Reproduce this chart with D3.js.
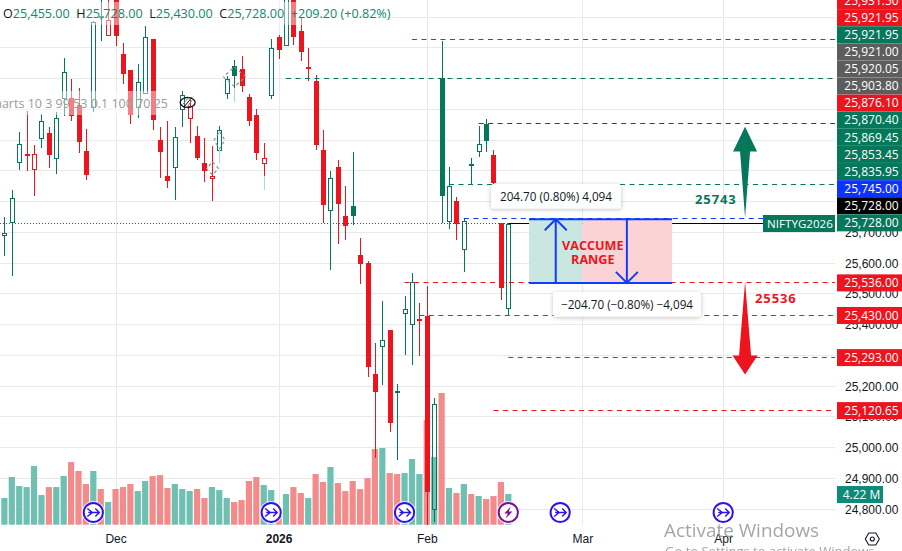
<!DOCTYPE html>
<html>
<head>
<meta charset="utf-8">
<style>
  html, body { margin: 0; padding: 0; background: #fff; overflow: hidden; }
  svg { display: block; font-family: "Open Sans", sans-serif; }
</style>
<script src="https://cdn.jsdelivr.net/npm/d3@7/dist/d3.min.js"></script>
</head>
<body>
<div id="chart"></div>
<script>
const candleOpen = [25692,25733,25928,25956,25906,26006,26023,25941,26136,26137,26114,25966,26108,26403,26341,26479,26281,26229,26108,26153,26330,26002,25885,25913,26101,26072,26015,25926,25877,25968,26153,26242,26232,26140,26083,25926,26147,26336,26310,26479,26356,26238,26194,25969,25773,25913,25755,25787,25628,25601,25241,25331,25384,25184,25438,25402,25420,25429,24801,26202,25737,25803,25646,25924,25964,26054,25953,25731,25455];
const candleHigh = [25750,25839,26027,26094,25985,26085,26044,26092,26267,26200,26170,26036,26387,26490,26470,26522,26316,26229,26248,26370,26330,26044,26064,26044,26160,26132,26047,26008,25982,26047,26210,26262,26275,26150,26101,25991,26329,26343,26544,26522,26397,26300,26213,26034,25901,25937,25852,25963,25683,25608,25340,25478,25384,25207,25493,25569,25472,25527,25162,26324,25913,25815,25747,25942,26047,26070,25969,25731,25728];
const candleLow = [25622,25559,25904,25901,25820,25976,25911,25891,26078,26064,25959,25872,26091,26321,26341,26305,26184,26054,26072,26153,26034,25878,25846,25807,26044,25991,25934,25863,25803,25926,26135,26123,26156,26045,25937,25839,26135,26265,26310,26311,26259,26191,25969,25731,25577,25663,25674,25725,25533,25229,24965,25203,25050,24961,25302,25268,25299,24750,24760,25731,25712,25674,25570,25858,25944,25961,25823,25479,25430];
const candleClose = [25698,25812,25988,25954,25955,26062,25951,26072,26222,26078,25995,25886,26383,26396,26390,26338,26214,26083,26189,26336,26065,25961,25866,26010,26146,26110,25941,25899,25884,26032,26199,26208,26175,26061,25957,25942,26300,26292,26522,26335,26286,26236,25985,25788,25877,25791,25720,25752,25596,25261,25180,25350,25079,25178,25451,25539,25414,24855,25142,25817,25852,25726,25737,25918,25988,25996,25860,25518,25728];
const candleGreen = [1,1,1,0,0,1,0,1,1,0,0,0,1,1,0,0,0,0,1,1,0,0,0,1,1,0,0,0,0,1,1,1,0,0,0,0,1,0,1,0,0,0,0,0,1,0,0,1,0,0,0,1,0,1,1,1,0,0,1,1,1,0,1,1,1,1,0,0,1];
const volumeM = [3.67,6.56,5.32,5.18,8.07,4.08,5.18,5.18,6.70,8.62,7.39,5.60,7.39,4.91,3.12,4.91,5.18,5.60,4.63,6.01,6.70,6.83,5.05,5.60,4.91,4.63,4.91,3.67,5.18,4.77,3.67,3.12,3.39,6.01,6.56,5.46,4.77,1.70,4.22,5.18,4.36,3.67,6.97,5.87,7.94,5.73,4.63,6.01,4.91,6.42,10.41,10.55,7.11,6.97,7.11,9.04,6.97,14.40,9.31,18.12,5.05,4.36,5.60,4.22,3.94,3.53,3.94,5.87,4.22];
const volumeGreen = [1,1,1,1,1,1,0,1,1,0,0,0,1,0,1,0,0,0,1,1,0,0,0,1,1,1,0,0,1,1,1,0,0,0,0,1,1,0,1,0,0,1,0,0,1,0,0,0,0,0,0,1,0,0,1,1,1,0,1,0,1,0,1,0,1,0,0,0,1];

const monthTicks = [15, 37, 57, 78, 97];
const monthLabels = ["Dec", "2026", "Feb", "Mar", "Apr"];
const priceTicks = [24800, 24900, 25000, 25100, 25200, 25300, 25400, 25500, 25600, 25700];

// drawn levels: start candle, price, colour
const levelStart = [55, 38, 64, 60, 62, 54, 56, 68, 66];
const levelPrice = [26326, 26202, 26053, 25855, 25745, 25536, 25430, 25293, 25120.65];
const levelKind = ["g", "g", "b", "g", "b", "r", "r", "r", "r"];

// pile of labels on the axis, top to bottom, ending at the last price
const pileText = ["25,931.50","25,921.95","25,921.95","25,921.00","25,920.05","25,903.80","25,876.10","25,870.40","25,869.45","25,853.45","25,835.95","25,745.00","25,728.00","25,728.00"];
const pileKind = ["r","r","g","x","x","x","r","g","g","g","g","b","k","g"];
const lowerLabelPrice = [25536, 25430, 25293, 25120.65];
const lowerLabelText = ["25,536.00", "25,430.00", "25,293.00", "25,120.65"];

const eventCandles = [12, 36, 54, 75, 97];
const flashCandle = 68;

// candles whose lower wick fades out, and the price where the fade starts
const paleWickCandle = [29, 31, 35];
const paleWickFrom = [25968, 26170, 25882];

// grey dashed drawing marks around some candles: candle, price, half width, half height
const diamondCandle = [29, 28, 31];
const diamondPrice = [26000, 25908, 26206];
const diamondSize = [[5.5, 8.5], [6, 6.5], [11, 10]];

const colors = {
  g: "#05775a", r: "#ee141e", b: "#0f33ff", x: "#5d5d5d", k: "#000",
  volG: "#6fbfb3", volR: "#f48b8b", grid: "#e9e9e9"
};

const width = 902, height = 551;
const plotRight = 835;

const svg = d3.select("#chart").append("svg")
  .attr("width", width)
  .attr("height", height);

const x = d3.scaleLinear().domain([0, 68]).range([4.4, 508.3]);
const y = d3.scaleLinear().domain([24800, 26400]).range([509.2, 17.2]);
const yVol = d3.scaleLinear().domain([0, 18.12]).range([524.7, 393]);
const px = i => Math.round(x(i)) + 0.5;
const py = p => Math.floor(y(p)) + 0.5;

// grid
svg.append("g").selectAll("line")
  .data(d3.range(24800, 26500, 100))
  .join("line")
  .attr("x1", 0).attr("x2", plotRight)
  .attr("y1", d => py(d)).attr("y2", d => py(d))
  .attr("stroke", colors.grid);

svg.append("g").selectAll("line")
  .data(monthTicks)
  .join("line")
  .attr("x1", d => px(d)).attr("x2", d => px(d))
  .attr("y1", 0).attr("y2", 525)
  .attr("stroke", colors.grid);

// volume
svg.append("g").selectAll("rect")
  .data(volumeM)
  .join("rect")
  .attr("x", (d, i) => x(i) - 3.1)
  .attr("width", 6.2)
  .attr("y", d => yVol(d))
  .attr("height", d => yVol(0) - yVol(d))
  .attr("fill", (d, i) => volumeGreen[i] ? colors.volG : colors.volR);

// candles
const candles = svg.append("g").attr("shape-rendering", "crispEdges");
candleOpen.forEach((o, i) => {
  const c = candleClose[i];
  const col = candleGreen[i] ? colors.g : colors.r;
  const hollow = c > o;
  const top = y(Math.max(o, c)), bottom = y(Math.min(o, c));
  candles.append("line").attr("x1", px(i)).attr("x2", px(i))
    .attr("y1", y(candleHigh[i])).attr("y2", top).attr("stroke", col);
  candles.append("line").attr("x1", px(i)).attr("x2", px(i))
    .attr("y1", bottom).attr("y2", y(candleLow[i])).attr("stroke", col);
  if (hollow) {
    candles.append("rect").attr("x", px(i) - 2).attr("width", 4)
      .attr("y", Math.round(top) + 0.5).attr("height", Math.max(1, Math.round(bottom - top)))
      .attr("fill", "none").attr("stroke", col);
  } else {
    candles.append("rect").attr("x", px(i) - 2.5).attr("width", 5)
      .attr("y", top).attr("height", Math.max(2, bottom - top))
      .attr("fill", col);
  }
});

paleWickCandle.forEach((c, i) => {
  candles.append("line").attr("x1", px(c)).attr("x2", px(c))
    .attr("y1", y(paleWickFrom[i])).attr("y2", y(candleLow[c]))
    .attr("stroke", "#a9dbd3");
});

// washed-out bands behind the legend rows
svg.append("rect").attr("x", 0).attr("y", 2).attr("width", 392).attr("height", 23)
  .attr("fill", "#fff").attr("opacity", 0.45);
svg.append("rect").attr("x", 0).attr("y", 91).attr("width", 172).attr("height", 24)
  .attr("fill", "#fff").attr("opacity", 0.45);

// levels
svg.append("g").selectAll("line")
  .data(levelPrice)
  .join("line")
  .attr("x1", (d, i) => x(levelStart[i]))
  .attr("x2", plotRight)
  .attr("y1", d => py(d)).attr("y2", d => py(d))
  .attr("stroke", (d, i) => colors[levelKind[i]])
  .attr("stroke-dasharray", "5 4.5");

// last price line
const lastY = py(25728);
svg.append("line").attr("x1", 0).attr("x2", x(68)).attr("y1", lastY).attr("y2", lastY)
  .attr("stroke", colors.g).attr("stroke-dasharray", "1 2");
svg.append("line").attr("x1", x(68)).attr("x2", 763).attr("y1", lastY).attr("y2", lastY)
  .attr("stroke", "#000");

// vaccume range box
const boxL = x(70.8), boxM = x(78), boxR = x(90.1);
const boxTop = y(25743), boxBot = y(25536);
svg.append("rect").attr("x", boxL).attr("y", boxTop).attr("width", boxM - boxL).attr("height", boxBot - boxTop)
  .attr("fill", "#c9e6e0");
svg.append("rect").attr("x", boxM).attr("y", boxTop).attr("width", boxR - boxM).attr("height", boxBot - boxTop)
  .attr("fill", "#fbd3d4");

const blue = svg.append("g").attr("fill", "none").attr("stroke", "#0f3cff").attr("stroke-width", 2);
[boxTop, boxBot].forEach(v => blue.append("line").attr("x1", boxL).attr("x2", boxR).attr("y1", v).attr("y2", v));
const upX = x(74.4), downX = x(84);
blue.append("line").attr("x1", upX).attr("x2", upX).attr("y1", boxTop).attr("y2", boxBot);
blue.append("path").attr("d", `M${upX - 11},${boxTop + 11}L${upX},${boxTop}L${upX + 11},${boxTop + 11}`);
blue.append("line").attr("x1", downX).attr("x2", downX).attr("y1", boxTop).attr("y2", boxBot);
blue.append("path").attr("d", `M${downX - 11},${boxBot - 11}L${downX},${boxBot}L${downX + 11},${boxBot - 11}`);

svg.append("g").selectAll("text")
  .data(["VACCUME", "RANGE"])
  .join("text")
  .attr("x", x(79.4))
  .attr("y", (d, i) => 250 + i * 14)
  .attr("text-anchor", "middle")
  .attr("font-size", 12.6)
  .attr("font-weight", 700)
  .attr("fill", colors.r)
  .text(d => d);

// measure tooltips
const shadow = svg.append("defs").append("filter").attr("id", "sh")
  .attr("x", "-10%").attr("y", "-30%").attr("width", "120%").attr("height", "170%");
shadow.append("feDropShadow").attr("dx", 0).attr("dy", 1).attr("stdDeviation", 2)
  .attr("flood-color", "#000").attr("flood-opacity", 0.25);

function tip(bx, by, bw, bh, txt) {
  svg.append("rect").attr("x", bx).attr("y", by).attr("width", bw).attr("height", bh)
    .attr("rx", 3).attr("fill", "#fff").attr("filter", "url(#sh)");
  svg.append("text").attr("x", bx + bw / 2).attr("y", by + 16.5)
    .attr("text-anchor", "middle").attr("font-size", 11.7).attr("fill", "#131722").text(txt);
}
tip(491, 184, 130, 24.5, "204.70 (0.80%) 4,094");
tip(553, 292, 148, 24.5, "−204.70 (−0.80%) −4,094");

// big arrows, anchored on price
const arrowX = x(99.95);
const greenHeadTip = y(26044), greenHeadBase = y(25963), greenTail = y(25748);
svg.append("path")
  .attr("d", `M${arrowX},${greenHeadTip}L${arrowX + 12},${greenHeadBase}L${arrowX + 5},${greenHeadBase}L${arrowX},${greenTail}L${arrowX - 5},${greenHeadBase}L${arrowX - 12},${greenHeadBase}Z`)
  .attr("fill", colors.g);
const redTail = y(25540), redHeadBase = y(25300), redTip = y(25238);
svg.append("path")
  .attr("d", `M${arrowX},${redTail}L${arrowX + 6},${redHeadBase}L${arrowX + 12.5},${redHeadBase}L${arrowX},${redTip}L${arrowX - 12.5},${redHeadBase}L${arrowX - 6},${redHeadBase}Z`)
  .attr("fill", colors.r);

svg.append("text").attr("x", 695).attr("y", 204).attr("font-size", 13).attr("font-weight", 700)
  .attr("letter-spacing", 0.9).attr("fill", colors.g).text("25743");
svg.append("text").attr("x", 755).attr("y", 303).attr("font-size", 13).attr("font-weight", 700)
  .attr("letter-spacing", 0.9).attr("fill", colors.r).text("25536");

// event markers on the time axis
const markers = svg.append("g");
function marker(i, col, inner) {
  const g = markers.append("g").attr("transform", `translate(${x(i)},512.5)`);
  g.append("circle").attr("r", 11.5).attr("fill", "#fff").attr("opacity", 0.75);
  g.append("circle").attr("r", 9.6).attr("fill", "#fff").attr("stroke", col).attr("stroke-width", 2);
  inner(g, col);
}
const arrowIcon = (g, col) => g.append("path")
  .attr("d", "M-6,-4L-1,0L-6,4M-5,0L6,0M2,-4L6,0L2,4")
  .attr("fill", "none").attr("stroke", col).attr("stroke-width", 1.4);
const flashIcon = (g, col) => g.append("path")
  .attr("d", "M2.5,-6L-4,1L-0.5,1L-2.5,6L4,-1L0.5,-1Z")
  .attr("fill", col);
eventCandles.forEach(i => marker(i, "#2c12f2", arrowIcon));
marker(flashCandle, "#7a0f9e", flashIcon);

// price scale
svg.append("rect").attr("x", plotRight).attr("y", 0).attr("width", width - plotRight).attr("height", height).attr("fill", "#fff");

const axisY = svg.append("g")
  .attr("transform", `translate(${plotRight},0)`)
  .call(d3.axisRight(y).tickValues(priceTicks).tickSize(0).tickPadding(10).tickFormat(d3.format(",.2f")));
axisY.select(".domain").remove();
axisY.selectAll("text").attr("font-family", "inherit").attr("font-size", 12).attr("fill", "#131722");

function priceLabel(yc, txt, col) {
  svg.append("rect").attr("x", 837).attr("y", yc - 8.5).attr("width", 65).attr("height", 17).attr("fill", col);
  svg.append("text").attr("x", 871.5).attr("y", yc + 4.2).attr("text-anchor", "middle")
    .attr("font-size", 12).attr("fill", "#fff").text(txt);
}
const pileBottom = y(25728) - 1;
pileText.forEach((t, i) => priceLabel(pileBottom - (pileText.length - 1 - i) * 17.1, t, colors[pileKind[i]]));
lowerLabelPrice.forEach((p, i) => priceLabel(y(p), lowerLabelText[i], colors.r));

svg.append("rect").attr("x", 763).attr("y", 215).attr("width", 72).attr("height", 17).attr("fill", colors.g);
svg.append("text").attr("x", 800).attr("y", 228).attr("text-anchor", "middle")
  .attr("font-size", 11.6).attr("fill", "#fff").text("NIFTYG2026");

svg.append("rect").attr("x", 837).attr("y", yVol(4.22) - 8).attr("width", 46).attr("height", 17).attr("fill", "#0d8a78");
svg.append("text").attr("x", 861.5).attr("y", yVol(4.22) + 4.7).attr("text-anchor", "middle")
  .attr("font-size", 12).attr("fill", "#fff").text("4.22 M");

// time axis
const axisX = svg.append("g")
  .attr("transform", "translate(0,524)")
  .call(d3.axisBottom(x).tickValues(monthTicks).tickSize(0).tickPadding(10)
    .tickFormat(d => monthLabels[monthTicks.indexOf(d)]));
axisX.select(".domain").remove();
axisX.selectAll("text").attr("font-family", "inherit").attr("font-size", 12).attr("fill", "#131722")
  .attr("font-weight", d => d === 37 ? 700 : 400);

// legend text
const legend = svg.append("text").attr("x", 3).attr("y", 18).attr("font-size", 12.6);
[["O", 1], ["25,455.00", 0], ["  H", 1], ["25,728.00", 0], ["  L", 1], ["25,430.00", 0], ["  C", 1], ["25,728.00", 0], ["  +209.20 (+0.82%)", 0]]
  .forEach(([t, dark]) => legend.append("tspan").attr("xml:space", "preserve")
    .attr("fill", dark ? "#131722" : "#0b8a70").text(t));
svg.append("text").attr("x", 168).attr("y", 108).attr("text-anchor", "end")
  .attr("font-size", 12.5).attr("fill", "#9b9b9b").text("Charts 10 3 99 53 0.1 100 70 25");

// dashed grey marks
svg.append("g").selectAll("path")
  .data(diamondCandle)
  .join("path")
  .attr("d", (c, i) => {
    const cx = px(c), cy = y(diamondPrice[i]);
    const [hw, hh] = diamondSize[i];
    return `M${cx},${cy - hh}L${cx + hw},${cy}L${cx},${cy + hh}L${cx - hw},${cy}Z`;
  })
  .attr("fill", "none").attr("stroke", "#8f8f8f").attr("stroke-width", 1.2).attr("stroke-dasharray", "3 3");

// eye icon over the chart
const eye = svg.append("g").attr("transform", `translate(${x(25) - 2},102.5)`)
  .attr("fill", "none").attr("stroke", "#111");
eye.append("ellipse").attr("rx", 7.5).attr("ry", 5).attr("stroke-width", 1.3);
eye.append("path").attr("d", "M-4,5L4,-5").attr("stroke-width", 1);
eye.append("path").attr("d", "M-1,5L5,-3M-5,2L1,-5").attr("stroke", "#888").attr("stroke-width", 1);

// gear in the corner
const gear = svg.append("g").attr("transform", "translate(872.3,539)").attr("fill", "none").attr("stroke", "#131722").attr("stroke-width", 1.1);
gear.append("path").attr("d", "M-7,0L-3.5,-6H3.5L7,0L3.5,6H-3.5Z");
gear.append("circle").attr("r", 2);

// windows watermark
svg.append("text").attr("x", 664).attr("y", 537).attr("font-size", 18.9).attr("fill", "#8f8f8f").attr("opacity", 0.8).text("Activate Windows");
svg.append("text").attr("x", 665).attr("y", 556).attr("font-size", 13).attr("fill", "#8f8f8f").attr("opacity", 0.8).text("Go to Settings to activate Windows");
</script>
</body>
</html>
